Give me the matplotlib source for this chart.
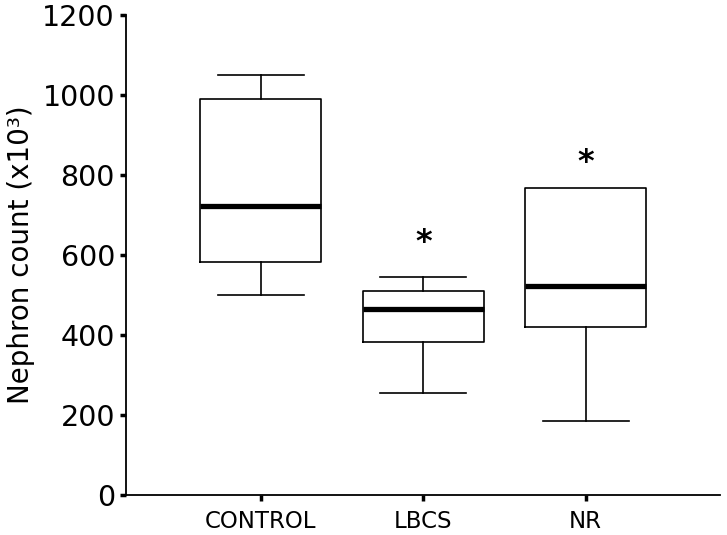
import numpy as np
import matplotlib.pyplot as plt

plt.rc('font', family='DejaVu Sans')

groups = ['CONTROL', 'LBCS', 'NR']
whislo = [500, 255, 185]
q1 = [582, 382, 420]
med = [722, 466, 522]
q3 = [990, 510, 767]
whishi = [1050, 545, 767]
star_y = [None, 632, 832]

stats = []
for g, lo, a, m, b, hi in zip(groups, whislo, q1, med, q3, whishi):
    stats.append(dict(label=g, whislo=lo, q1=a, med=m, q3=b, whishi=hi, fliers=[]))

fig = plt.figure(figsize=(7.27, 5.35), dpi=100)
ax = fig.add_axes([0.1733, 0.0748, 0.8167, 0.8972])

pos = [1, 2, 3]
box = ax.bxp(stats, positions=pos, widths=0.745, capwidths=0.53, showfliers=False,
             boxprops=dict(color='black', linewidth=1.2),
             whiskerprops=dict(color='black', linewidth=1.2),
             capprops=dict(color='black', linewidth=1.2),
             medianprops=dict(color='black', linewidth=3.8, solid_capstyle='butt'))
# NR has no upper whisker, so hide its top cap
box['caps'][5].set_visible(False)

for p, y in zip(pos, star_y):
    if y is not None:
        ax.text(p, y, '*', ha='center', va='center', fontsize=23, fontweight='bold')

ax.set_xlim(0.169, 3.825)
ax.set_ylim(0, 1200)
ax.set_yticks(range(0, 1201, 200))
ax.set_xticks(pos)
ax.set_xticklabels(groups, fontsize=16.5)
ax.tick_params(axis='y', labelsize=20.5, length=4, width=2.5, pad=4)
ax.tick_params(axis='x', length=4, width=2.5, pad=7)
ax.spines['top'].set_visible(False)
ax.spines['right'].set_visible(False)
ax.spines['left'].set_linewidth(1.3)
ax.spines['bottom'].set_linewidth(1.3)
ax.set_ylabel('Nephron count (x10³)', fontsize=20, labelpad=5)

fig.savefig('out.png', dpi=100)
